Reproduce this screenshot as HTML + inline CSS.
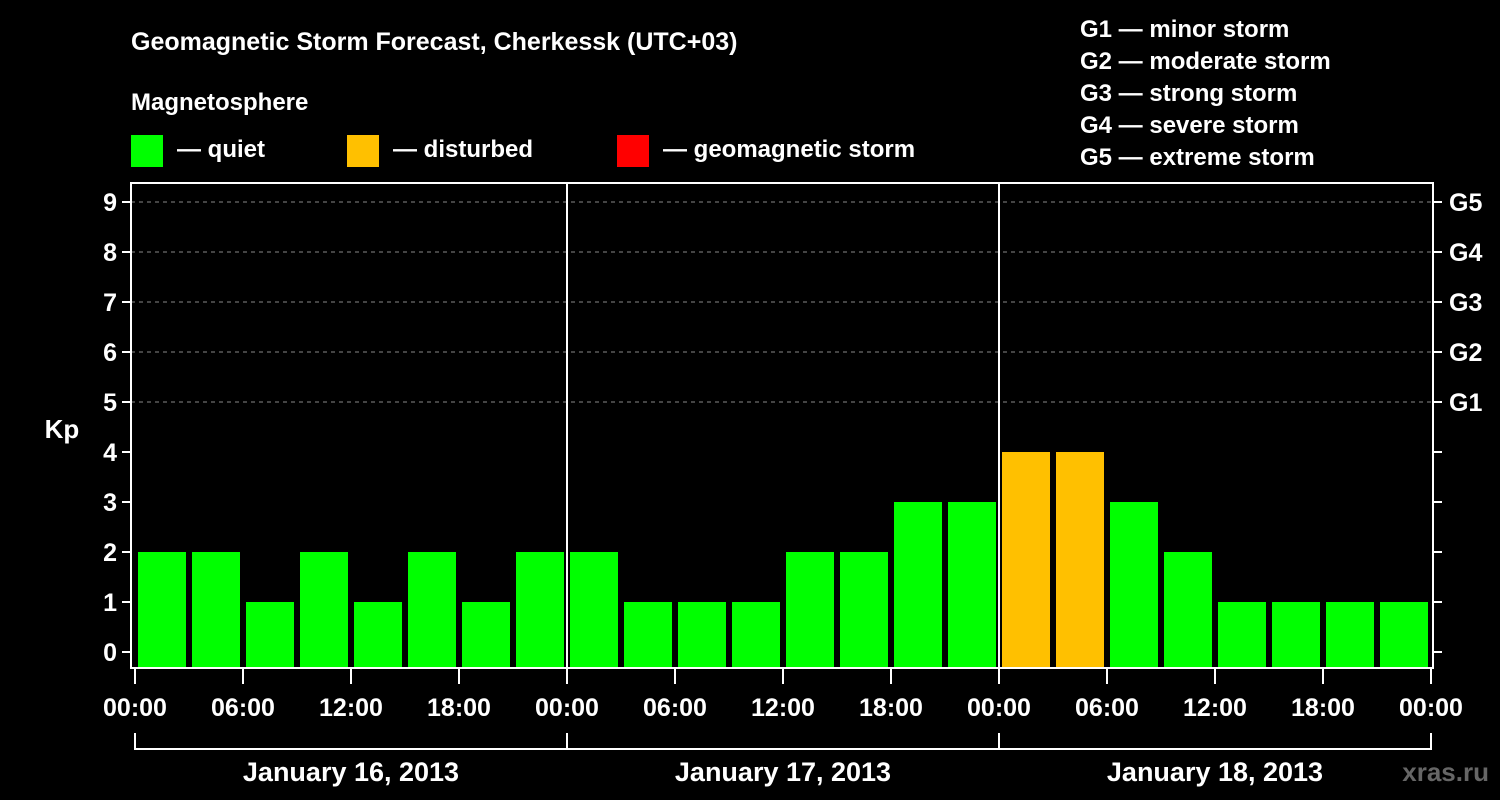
<!DOCTYPE html>
<html><head><meta charset="utf-8"><style>
html,body{margin:0;padding:0;background:#000;}
svg{display:block;font-family:"Liberation Sans",Arial,sans-serif;font-weight:bold;}
</style></head><body>
<svg id="chart" width="1500" height="800" xmlns="http://www.w3.org/2000/svg">
<rect width="1500" height="800" fill="#000"/>
<text x="131" y="50" fill="#fff" font-size="25">Geomagnetic Storm Forecast, Cherkessk (UTC+03)</text>
<text x="131" y="110" fill="#fff" font-size="24">Magnetosphere</text>
<g><rect x="131" y="135" width="32" height="32" fill="#00ff00"/><text x="177" y="157" fill="#fff" font-size="24">— quiet</text></g>
<g><rect x="347" y="135" width="32" height="32" fill="#ffc000"/><text x="393" y="157" fill="#fff" font-size="24">— disturbed</text></g>
<g><rect x="617" y="135" width="32" height="32" fill="#ff0000"/><text x="663" y="157" fill="#fff" font-size="24">— geomagnetic storm</text></g>
<g fill="#fff" font-size="24">
<text x="1080" y="37">G1 — minor storm</text>
<text x="1080" y="69">G2 — moderate storm</text>
<text x="1080" y="101">G3 — strong storm</text>
<text x="1080" y="133">G4 — severe storm</text>
<text x="1080" y="165">G5 — extreme storm</text>
</g>
<g id="grid"></g>
<g id="bars"></g>
<g id="axes"></g>
<text x="62" y="438" fill="#fff" font-size="26" text-anchor="middle">Kp</text>
<text x="1489" y="781" fill="#666" font-size="26" text-anchor="end">xras.ru</text>
</svg>
<script>
const kpValues=[2,2,1,2,1,2,1,2, 2,1,1,1,2,2,3,3, 4,4,3,2,1,1,1,1];
const barStatus=["q","q","q","q","q","q","q","q","q","q","q","q","q","q","q","q","d","d","q","q","q","q","q","q"];
const dayLabels=["January 16, 2013","January 17, 2013","January 18, 2013"];
const hourLabels=["00:00","06:00","12:00","18:00"];
const kpTicks=[0,1,2,3,4,5,6,7,8,9];
const gLabels=[[5,"G1"],[6,"G2"],[7,"G3"],[8,"G4"],[9,"G5"]];
const NS="http://www.w3.org/2000/svg";
const X0=135,DAYW=432,SLOT=54,Y0=652,UNIT=50,FL=131,FR=1433,FT=183,FB=668;
const xs=i=>X0+i*SLOT; const ys=v=>Y0-v*UNIT;
function mk(p,t,a){const e=document.createElementNS(NS,t);for(const k in a)e.setAttribute(k,a[k]);p.appendChild(e);return e;}
const grid=document.getElementById('grid'),bars=document.getElementById('bars'),axes=document.getElementById('axes');
const colors={q:"#00ff00",d:"#ffc000",s:"#ff0000"};
kpTicks.forEach(v=>{
 if(v>=5){const l=mk(grid,'line',{x1:FL,x2:FR,y1:ys(v),y2:ys(v),stroke:'#888','stroke-dasharray':'4,4','stroke-width':1});
 
 }
 const t=mk(axes,'line',{x1:FL-9,x2:FL,y1:ys(v),y2:ys(v),stroke:'#fff','stroke-width':2});
 
 
 const t2=mk(axes,'line',{x1:FR,x2:FR+9,y1:ys(v),y2:ys(v),stroke:'#fff','stroke-width':2});
 
 
 const lb=mk(axes,'text',{x:FL-14,y:ys(v)+9,fill:'#fff','font-size':25,'text-anchor':'end'});lb.textContent=v;
 
 
});
gLabels.forEach(g=>{const t=mk(axes,'text',{x:FR+16,y:ys(g[0])+9,fill:'#fff','font-size':25});t.textContent=g[1];
 
 });
kpValues.forEach((v,i)=>{
 const r=mk(bars,'rect',{x:xs(i)+3,y:ys(v),width:SLOT-6,height:FB-1-ys(v),fill:colors[barStatus[i]]});
 
 
});
const fr=mk(axes,'rect',{x:FL,y:FT,width:FR-FL,height:FB-FT,fill:'none',stroke:'#fff','stroke-width':2});


for(let d=1;d<dayLabels.length;d++){const l=mk(axes,'line',{x1:X0+d*DAYW,x2:X0+d*DAYW,y1:FT,y2:FB,stroke:'#fff','stroke-width':2});
 
 }
for(let d=0;d<=dayLabels.length;d++){
 for(let h=0;h<hourLabels.length;h++){
  if(d==dayLabels.length&&h>0)break;
  const x=X0+d*DAYW+h*2*SLOT;
  const t=mk(axes,'line',{x1:x,x2:x,y1:FB,y2:FB+16,stroke:'#fff','stroke-width':2});
  
  
  const lb=mk(axes,'text',{x:x,y:716,fill:'#fff','font-size':25,'text-anchor':'middle'});lb.textContent=hourLabels[h];
  
  
 }
 const b=mk(axes,'line',{x1:X0+d*DAYW,x2:X0+d*DAYW,y1:733,y2:750,stroke:'#fff','stroke-width':2});
 
 
}
const bl=mk(axes,'line',{x1:X0,x2:X0+dayLabels.length*DAYW,y1:749,y2:749,stroke:'#fff','stroke-width':2});


dayLabels.forEach((s,d)=>{const t=mk(axes,'text',{x:X0+d*DAYW+DAYW/2,y:781,fill:'#fff','font-size':27,'text-anchor':'middle'});t.textContent=s;
 
 });
</script>
</body></html>
